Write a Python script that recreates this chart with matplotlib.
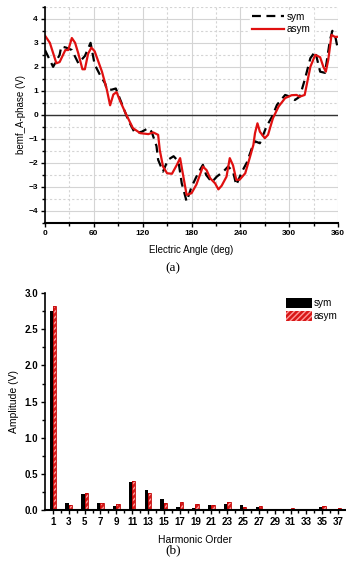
import matplotlib
matplotlib.use('Agg')
import matplotlib.pyplot as plt
import numpy as np

plt.rcParams['font.family'] = ['Liberation Sans', 'DejaVu Sans']
plt.rcParams['font.weight'] = 'bold'

# (a) back-EMF, A phase
ang_sym = [0, 10, 18, 20, 26, 33, 41, 49, 56, 61, 67.5, 74, 76, 82, 87, 94, 102, 110.5, 119,
           127, 131, 137, 139, 145, 151, 158, 164, 168, 174, 180, 188, 194, 198, 205, 211, 219,
           225, 231, 235, 242, 248, 254, 258, 264, 272, 279, 285, 295, 301, 307, 313, 319, 326,
           332, 338, 344, 350, 353, 357, 360]
bemf_sym = [2.7, 2.0, 2.5, 2.85, 2.8, 2.7, 2.15, 2.45, 3.0, 2.1, 1.67, 1.3, 1.05, 1.05, 1.1, 0.5,
            -0.2, -0.76, -0.7, -0.55, -0.7, -1.3, -1.87, -2.36, -1.87, -1.72, -1.94, -2.85, -3.6,
            -3.0, -2.43, -2.08, -2.5, -2.8, -2.57, -2.36, -2.15, -2.36, -2.92, -2.36, -1.98, -1.4,
            -1.1, -1.18, -0.49, -0.07, 0.42, 0.83, 0.76, 0.62, 0.76, 1.45, 2.36, 2.64, 1.8, 1.75,
            3.1, 3.5, 3.2, 2.7]

ang_asym = [0, 6, 14, 18, 25, 28.6, 33, 37, 41, 46, 49, 53, 57, 61, 70, 76, 80, 84, 88, 92, 100,
            108, 117, 127, 133, 139, 141, 145, 150, 156, 162, 166, 170, 174, 180, 186, 194, 198.5,
            203, 209, 213, 217, 223, 227, 231, 235, 239, 246, 252, 256, 258, 261, 264, 270, 274,
            280, 287, 295, 303, 309, 313, 319, 326, 332, 338, 342, 345, 348, 352, 356, 360]
bemf_asym = [3.3, 3.0, 2.15, 2.2, 2.7, 2.7, 3.2, 3.0, 2.55, 1.9, 1.9, 2.55, 2.8, 2.65, 1.8, 1.05,
             0.4, 0.85, 0.95, 0.6, 0.0, -0.55, -0.76, -0.8, -0.73, -0.83, -1.46, -2.15, -2.43,
             -2.45, -2.08, -1.8, -2.57, -3.33, -3.26, -2.9, -2.15, -2.3, -2.64, -2.85, -3.1, -2.95,
             -2.57, -1.8, -2.1, -2.7, -2.7, -2.43, -1.73, -1.25, -0.76, -0.35, -0.7, -0.97, -0.83,
             -0.14, 0.35, 0.7, 0.82, 0.83, 0.76, 0.83, 2.0, 2.5, 2.4, 2.0, 1.8, 2.3, 3.33, 3.25,
             3.25]

# (b) harmonic spectrum
orders = [1, 3, 5, 7, 9, 11, 13, 15, 17, 19, 21, 23, 25, 27, 29, 31, 33, 35, 37]
amp_sym = [2.75, 0.10, 0.22, 0.09, 0.055, 0.39, 0.275, 0.147, 0.046, 0.023, 0.07, 0.085, 0.065,
           0.046, 0.018, 0.01, 0.018, 0.046, 0.018]
amp_asym = [2.82, 0.07, 0.23, 0.09, 0.08, 0.40, 0.24, 0.10, 0.105, 0.08, 0.065, 0.11, 0.045,
            0.05, 0.01, 0.023, 0.008, 0.055, 0.023]

fig = plt.figure(figsize=(3.46, 5.66), dpi=100)

# ---- (a)
ax1 = fig.add_axes([0.130, 0.606, 0.847, 0.382])
ax1.set_xlim(0, 360)
ax1.set_ylim(-4.5, 4.5)
ax1.set_xticks(np.arange(0, 361, 60))
ax1.set_xticks(np.arange(30, 361, 60), minor=True)
ax1.set_yticks(np.arange(-4, 5, 1))
ax1.set_yticks(np.arange(-4.5, 4.6, 1), minor=True)
ax1.grid(which='major', color='#d4d4d4', lw=0.8, ls='-')
ax1.grid(which='minor', color='#d4d4d4', lw=0.8, ls=(0, (2, 2)))
ax1.axhline(0, color='#333333', lw=1.0)
ax1.plot(ang_sym, bemf_sym, color='black', lw=1.6, ls=(0, (4, 2.5)), label='sym')
ax1.plot(ang_asym, bemf_asym, color='#e01010', lw=1.6, label='asym')
for s in ['top', 'right']:
    ax1.spines[s].set_visible(False)
ax1.spines['left'].set_linewidth(1.2)
ax1.spines['bottom'].set_linewidth(1.5)
ax1.tick_params(which='both', direction='out', labelsize=6, width=1, pad=2)
ax1.tick_params(which='major', length=3)
ax1.tick_params(which='minor', length=2)
ax1.set_xlabel('Electric Angle (deg)', fontsize=7, labelpad=6)
ax1.set_ylabel('bemf_A-phase (V)', fontsize=7, labelpad=2)
ax1.legend(loc='upper right', bbox_to_anchor=(0.93, 1.01), fontsize=7, frameon=True,
           fancybox=False, edgecolor='white', framealpha=1, handlelength=3.2,
           borderpad=0.2, labelspacing=0.25, handletextpad=0.3,
           prop={'weight': 'normal', 'size': 7.2})
fig.text(0.5, 0.526, '(a)', family='Liberation Serif', fontweight='normal', fontsize=9.5,
         ha='center', va='center')

# ---- (b)
ax2 = fig.add_axes([0.130, 0.099, 0.870, 0.383])
w = 0.42
x = np.array(orders)
ax2.bar(x - w / 2, amp_sym, width=w, color='black', label='sym')
ax2.bar(x + w / 2, amp_asym, width=w, color='#d81818', edgecolor='#ff9a9a', hatch='//////',
        lw=0, label='asym')
ax2.bar(x + w / 2, amp_asym, width=w, fill=False, edgecolor='#c00000', lw=0.6)
ax2.set_xlim(0, 38)
ax2.set_ylim(0, 3.0)
ax2.set_xticks(orders)
ax2.set_xticks(np.arange(2, 37, 2), minor=True)
ax2.set_yticks(np.arange(0, 3.01, 0.5))
ax2.set_yticks(np.arange(0.25, 3.0, 0.5), minor=True)
ax2.set_yticklabels(['%.1f' % v for v in np.arange(0, 3.01, 0.5)])
for s in ['top', 'right']:
    ax2.spines[s].set_visible(False)
ax2.spines['left'].set_linewidth(1.2)
ax2.spines['bottom'].set_linewidth(1.5)
ax2.tick_params(which='both', direction='out', labelsize=7, width=1, pad=2)
ax2.tick_params(which='major', length=3)
ax2.tick_params(which='minor', length=2)
ax2.set_xlabel('Harmonic Order', fontsize=7.5, labelpad=6)
ax2.set_ylabel('Amplitude (V)', fontsize=7.5, labelpad=4)
ax2.legend(loc='upper right', bbox_to_anchor=(0.995, 1.01), frameon=False,
           handlelength=2.6, handleheight=1.1, borderpad=0.2, labelspacing=0.3,
           handletextpad=0.2, prop={'weight': 'normal', 'size': 7.2})
fig.text(0.5, 0.028, '(b)', family='Liberation Serif', fontweight='normal', fontsize=9.5,
         ha='center', va='center')

plt.savefig('out.png', dpi=100)
